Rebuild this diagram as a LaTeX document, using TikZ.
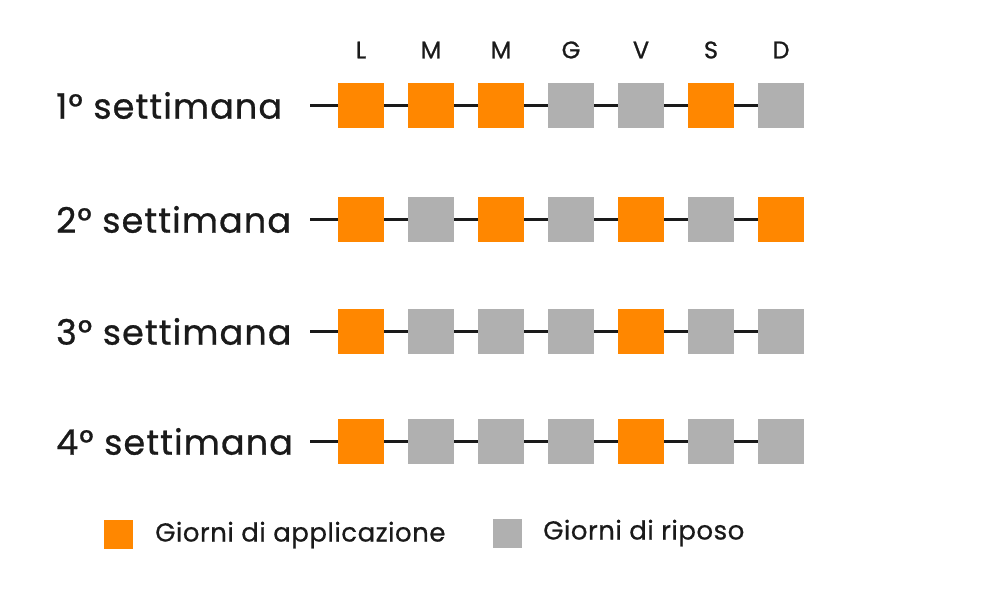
\documentclass[tikz,border=0pt]{standalone}
\usepackage{fontspec}
\setmainfont{Poppins}
\newfontfamily\wkfont[LetterSpace=3.2,FakeBold=0.8]{Poppins}
\newfontfamily\lgfont[LetterSpace=2.0,FakeBold=0.6]{Poppins}
\newfontfamily\dyfont[FakeBold=1.0]{Poppins}
\definecolor{appl}{HTML}{FF8700}
\definecolor{rest}{HTML}{B0B0B0}
\definecolor{ink}{HTML}{1A1A1A}
\begin{document}
\begin{tikzpicture}[x=1pt,y=-1pt,
  day/.style={draw=none,minimum width=46pt,minimum height=45pt,inner sep=0pt},
  on/.style={day,fill=appl},
  off/.style={day,fill=rest},
  link/.style={draw=ink,line width=2.6pt},
  week/.style={anchor=west,font=\wkfont\fontsize{35}{40}\selectfont,text=ink,inner sep=0pt},
  dayname/.style={font=\dyfont\fontsize{24}{28}\selectfont,text=ink,inner sep=0pt},
  legbox/.style={draw=none,minimum size=29pt,inner sep=0pt},
  legtext/.style={anchor=west,font=\lgfont\fontsize{26}{30}\selectfont,text=ink,inner sep=0pt}]
\useasboundingbox (0,0) rectangle (982,590);
\fill[white] (0,0) rectangle (982,590);
% day names
\foreach \l [count=\i] in {L,M,M,G,V,S,D}
  \node[dayname] (h\i) at ({361+70*(\i-1)},50) {\l};
% rows
\foreach \r/\y/\pat in {1/105.5/{on,on,on,off,off,on,off},
                        2/219.5/{on,off,on,off,on,off,on},
                        3/331.5/{on,off,off,off,on,off,off},
                        4/441.5/{on,off,off,off,on,off,off}} {
  \node[week] (w\r) at (56,\y) {\r° settimana};
  \coordinate (s\r) at (310,\y);
  \foreach \st [count=\i] in \pat
    \node[\st] (d\r-\i) at ({361+70*(\i-1)},\y) {};
  \draw[link] (s\r) -- (d\r-1);
  \foreach \i [evaluate=\i as \j using int(\i+1)] in {1,...,6}
    \draw[link] (d\r-\i) -- (d\r-\j);
}
% legend
\node[legbox,fill=appl] (la) at (118.5,534.5) {};
\node[legtext] (lat) at (155,535) {Giorni di applicazione};
\node[legbox,fill=rest] (lr) at (507,533.5) {};
\node[legtext] (lrt) at (543,533) {Giorni di riposo};
\end{tikzpicture}
\end{document}
